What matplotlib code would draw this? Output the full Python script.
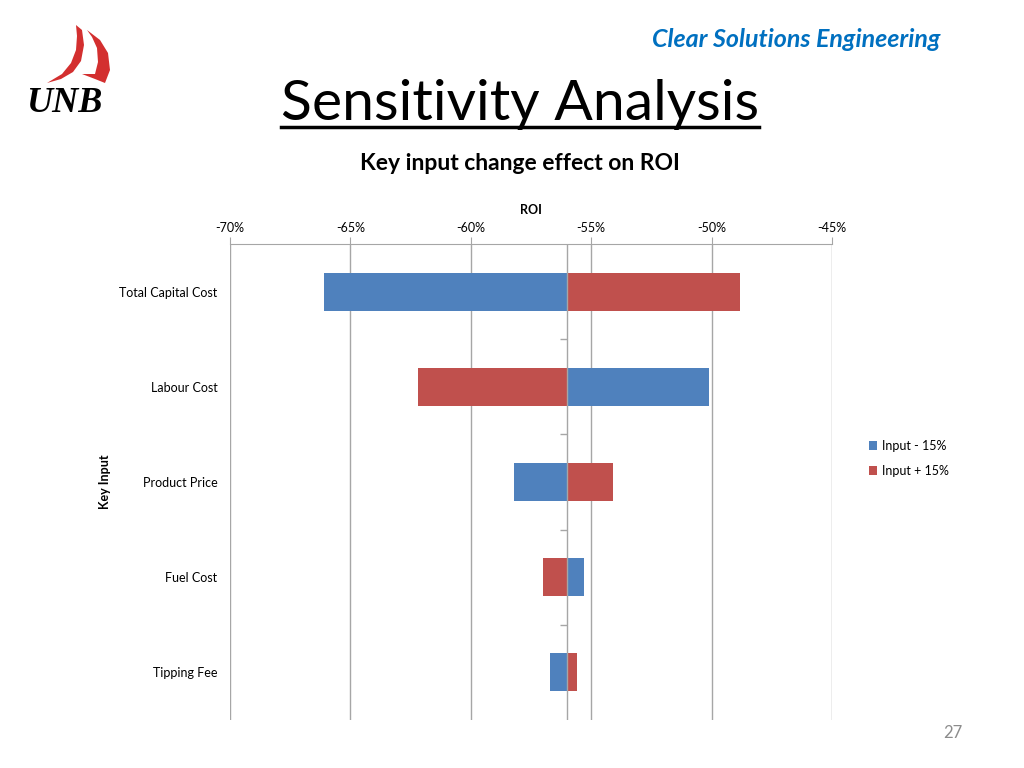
import matplotlib

matplotlib.use("Agg")
import matplotlib.pyplot as plt
from matplotlib.patches import Polygon
from matplotlib.ticker import FuncFormatter, MultipleLocator

# --- data (ROI, in percent) ---
categories = ["Total Capital Cost", "Labour Cost", "Product Price", "Fuel Cost", "Tipping Fee"]
base_roi = -56.0
roi_minus_15 = [-66.1, -50.1, -58.2, -55.3, -56.7]   # Input - 15%
roi_plus_15 = [-48.8, -62.2, -54.1, -57.0, -55.6]    # Input + 15%
x_ticks = [-70, -65, -60, -55, -50, -45]

BLUE = "#4F81BD"
RED = "#C0504D"
GRID = "#A6A6A6"

plt.rcParams["font.family"] = ["Lato", "DejaVu Sans"]

fig = plt.figure(figsize=(10.24, 7.68), dpi=100)

# slide header
fig.text(0.778, 0.948, "Clear Solutions Engineering", ha="center", va="center",
         fontsize=18, fontweight="bold", style="italic", color="#0070C0")
title = fig.text(0.508, 0.864, "Sensitivity Analysis", ha="center", va="center",
                 fontsize=41, color="black")
fig.canvas.draw()
bb = title.get_window_extent().transformed(fig.transFigure.inverted())
fig.add_artist(plt.Line2D([bb.x0, bb.x1], [0.834, 0.834], color="black", lw=2.5))
fig.text(0.508, 0.787, "Key input change effect on ROI", ha="center", va="center",
         fontsize=16.5, fontweight="bold")
fig.text(0.930, 0.045, "27", ha="center", va="center", fontsize=12, color="#8C8C8C")

# UNB logo (sail + wordmark), drawn in slide pixel coordinates
logo = fig.add_axes([20 / 1024, 1 - 120 / 768, 100 / 1024, 100 / 768])
logo.set_xlim(20, 120)
logo.set_ylim(120, 20)
logo.axis("off")
logo.add_patch(Polygon([(76, 25), (82, 30), (84, 45), (81, 61), (73, 72), (61, 79),
                        (47, 83), (62, 74), (71, 63), (76, 50), (77, 36)],
                       closed=True, color="#D32F2F", lw=0))
logo.add_patch(Polygon([(87, 30), (100, 40), (108, 53), (110, 70), (105, 83),
                        (95, 79), (82, 74), (95, 74), (98, 62), (97, 48), (92, 37)],
                       closed=True, color="#D32F2F", lw=0))
logo.text(64, 104, "UNB", ha="center", va="center", fontsize=26, fontweight="bold",
          style="italic", family="Liberation Serif")

# tornado chart
ax = fig.add_axes([0.2246, 0.0625, 0.5879, 0.6198])
ypos = list(range(len(categories)))
ax.barh(ypos, [v - base_roi for v in roi_minus_15], left=base_roi, height=0.4,
        color=BLUE, label="Input - 15%", zorder=3)
ax.barh(ypos, [v - base_roi for v in roi_plus_15], left=base_roi, height=0.4,
        color=RED, label="Input + 15%", zorder=3)

ax.set_xlim(x_ticks[0], x_ticks[-1])
ax.set_ylim(len(categories) - 0.5, -0.5)
ax.xaxis.set_major_locator(MultipleLocator(5))
ax.xaxis.set_major_formatter(FuncFormatter(lambda v, _: f"{v:.0f}%"))
ax.xaxis.tick_top()
ax.xaxis.set_label_position("top")
ax.tick_params(axis="x", colors=GRID, labelcolor="black", labelsize=9, length=5, pad=2)
ax.set_xlabel("ROI", fontsize=9, fontweight="bold", labelpad=6)
ax.grid(axis="x", color=GRID, lw=1, zorder=0)

ax.set_yticks(ypos)
ax.set_yticklabels(categories, fontsize=9)
ax.tick_params(axis="y", length=0, pad=9)
ax.set_ylabel("Key Input", fontsize=9, fontweight="bold", labelpad=6)

for side in ["left", "right", "bottom"]:
    ax.spines[side].set_visible(False)
ax.spines["top"].set_color(GRID)

# vertical category axis at the base ROI with small boundary ticks
ax.axvline(base_roi, color=GRID, lw=1, zorder=4)
boundaries = [i + 0.5 for i in ypos[:-1]]
ax.plot([base_roi] * len(boundaries), boundaries, ls="none", marker=0,
        markersize=5, color=GRID, zorder=4)

ax.legend(loc="center left", bbox_to_anchor=(1.042, 0.55), frameon=False, fontsize=9,
          handlelength=0.7, handleheight=0.7, handletextpad=0.4, labelspacing=1.05)

fig.savefig("out.png", dpi=100)
